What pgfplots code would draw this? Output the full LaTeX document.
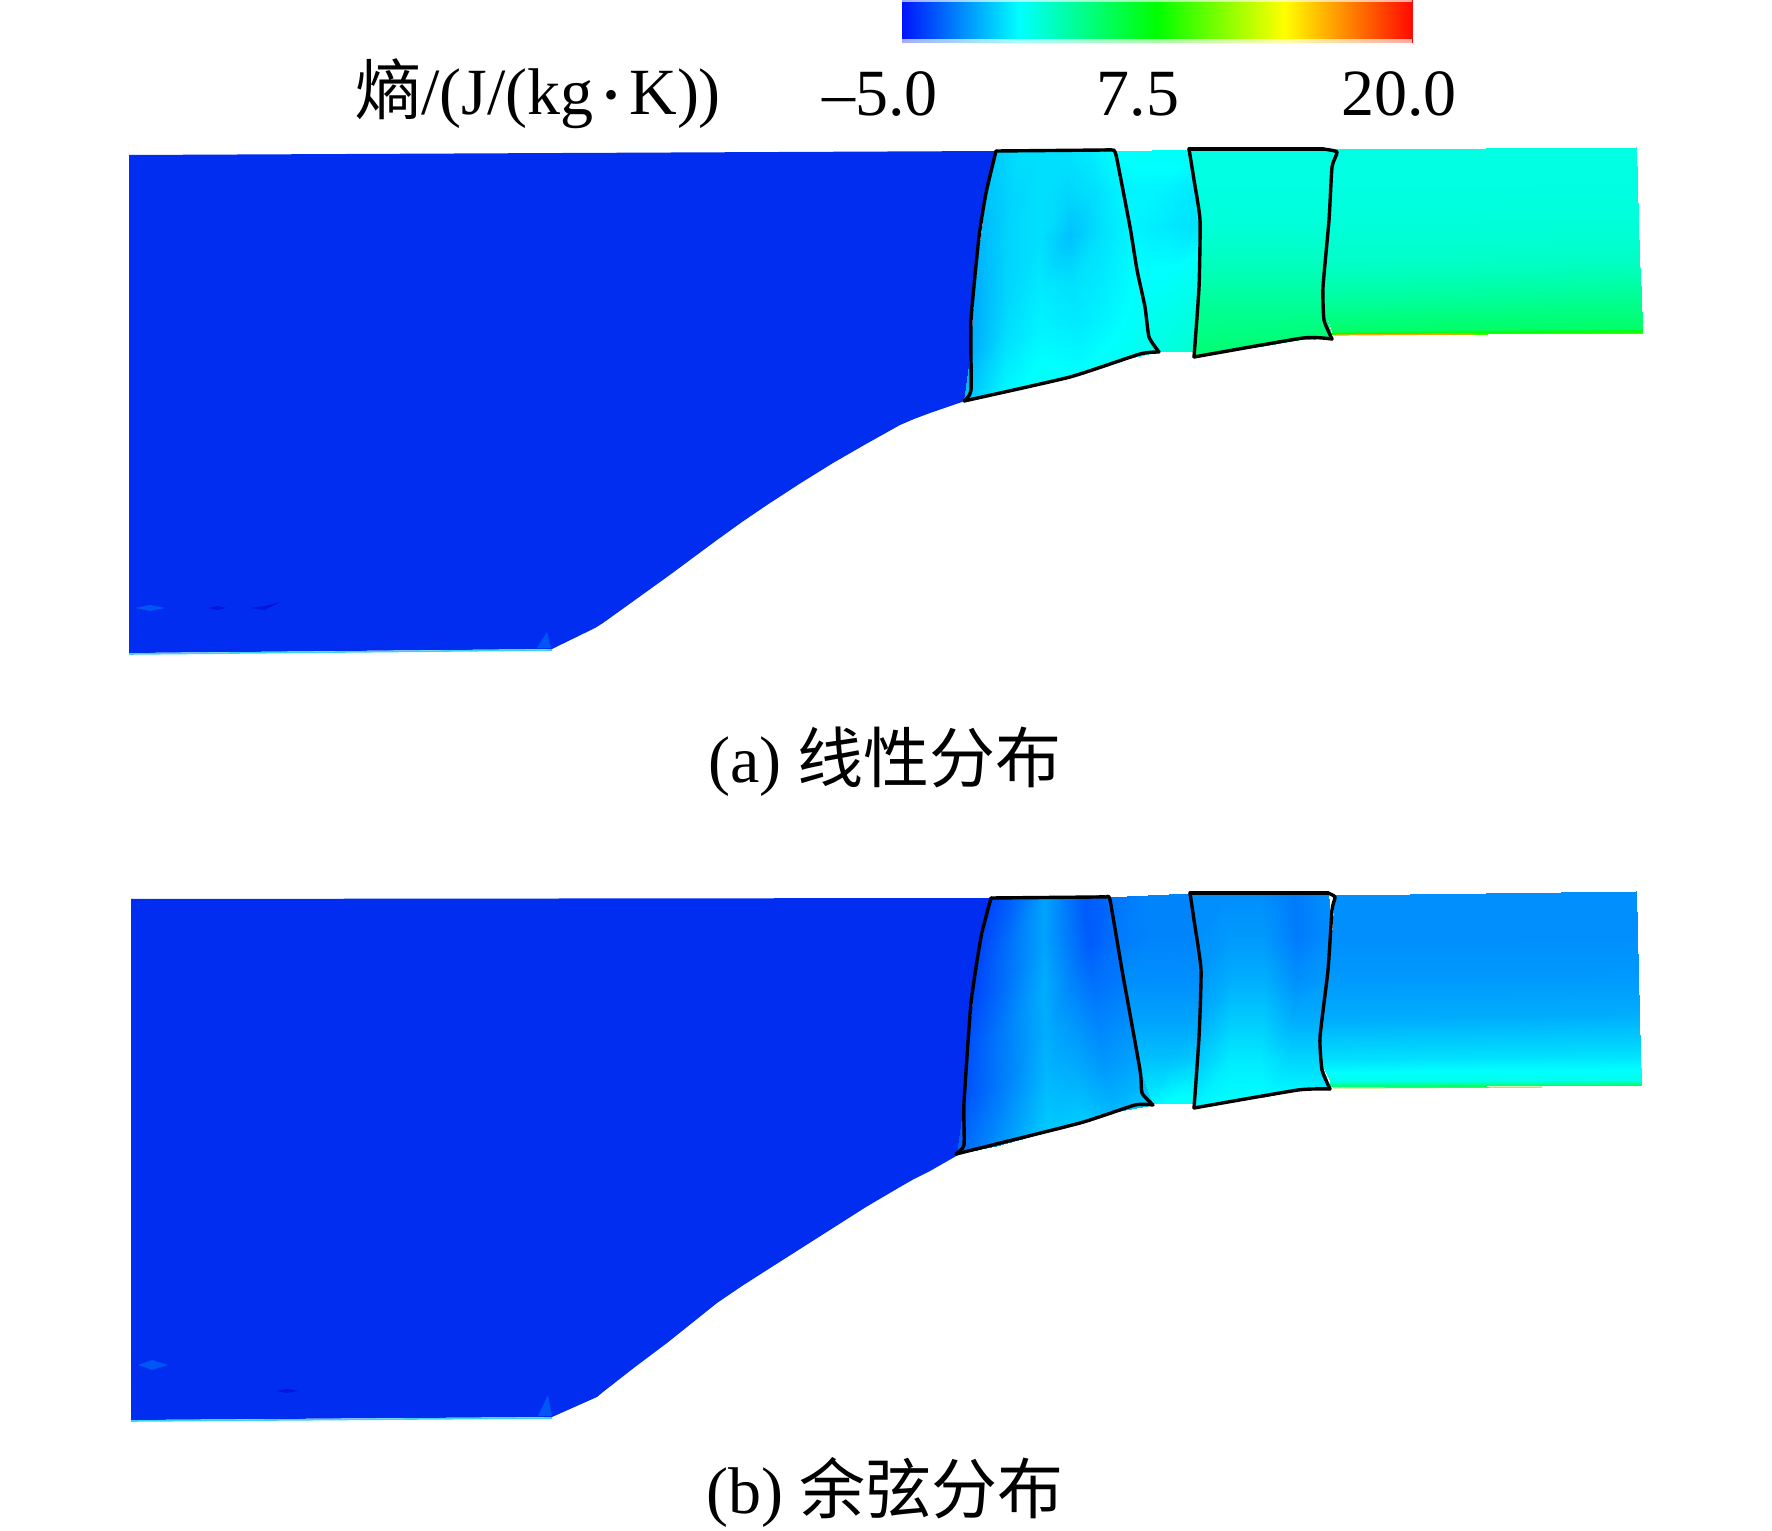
\documentclass[border=0pt]{standalone}
\usepackage{fontspec}
\usepackage{pgfplots}
\pgfplotsset{compat=1.18}
\setmainfont{Liberation Serif}
\newfontfamily\cjk{Noto Sans CJK SC}
\definecolor{inlet}{RGB}{0,45,240}
\definecolor{inletL}{RGB}{0,85,245}
\definecolor{inletD}{RGB}{0,20,225}
\definecolor{rimc}{RGB}{60,210,250}
\pgfplotsset{fld/.style={surf,shader=interp,point meta=explicit,mesh/rows=#1},
 outl/.style={black,line width=1.7bp,line join=round,line cap=round,smooth,tension=.3}}
\tikzset{txt/.style={font=\fontsize{33bp}{36bp}\selectfont,inner sep=0pt}}
\begin{document}
\begin{tikzpicture}
\begin{axis}[name=a,width=886bp,height=765.5bp,scale only axis,hide axis,clip=false,
  xmin=0,xmax=1772,ymin=0,ymax=1531,zmin=-1,zmax=1,y dir=reverse,view={0}{90},
  x filter/.expression={x>905 ? x-3 : x},
  point meta min=-5,point meta max=20,
  colormap={fluent}{rgb255(0cm)=(0,20,250) rgb255(23cm)=(0,255,255) rgb255(50cm)=(0,255,0) rgb255(75cm)=(255,255,0) rgb255(100cm)=(255,10,0)}]
% colour bar
\addplot3[fld=2] table[z expr=0,meta=c]{
x y c
902 0 -5
1415 0 20
902 42 -5
1415 42 20
};
\addplot3[draw=none,fill=white,fill opacity=.65] coordinates {(902,39,0)(1415,39,0)(1415,43,0)(902,43,0)} --cycle;
\addplot3[draw=none,fill=white,fill opacity=.65] coordinates {(902,0,0)(1415,0,0)(1415,2,0)(902,2,0)} --cycle;
% ---------- panel a: inlet
\addplot3[fill=inlet,draw=none] coordinates {(129,155,0)(999,151,0)(989,193,0)(982,237,0)(976,290,0)(974,340,0)(972,390,0)(965,402,0)(933,413,0)(917,419,0)(900,425,0)(883,434.5,0)(866,444,0)(833,463,0)(800,483.5,0)(767,505,0)(742,522,0)(717,540,0)(692,558.5,0)(667,577,0)(635,600,0)(603,623,0)(595,628,0)(552,649,0)(129,653,0)} --cycle;
\addplot3[rimc,line width=.8bp] coordinates {(129,654,0)(552,650,0)};
\addplot3[fill=inletL,draw=none] coordinates {(135,608,0)(150,605,0)(165,608,0)(150,611,0)} --cycle;
\addplot3[fill=inletD,draw=none] coordinates {(208,608,0)(218,606,0)(226,608,0)(218,610,0)} --cycle;
\addplot3[fill=inletD,draw=none] coordinates {(250,608,0)(265,606,0)(280,602,0)(265,610,0)} --cycle;
\addplot3[fill=inletL,draw=none] coordinates {(537,648,0)(547,632,0)(551,648,0)} --cycle;
% blade 1 a
\addplot3[fld=6] table[z expr=0,meta=c]{
x y c
999 151 -0.5
1023 151 0
1046 151 0
1070 151 0
1093 151 0.25
1117 151 0.75
989 200 -0.75
1016 198 -0.25
1044 196 0
1071 195 -0.25
1099 193 0
1126 191 0.5
982 250 -1
1012 245 -0.25
1042 241 0
1073 236 -0.75
1103 232 0
1133 227 0.5
977 300 -1.25
1010 294 -0.25
1042 288 0.25
1075 282 0
1107 276 0.25
1140 270 0.75
974 350 -1.25
1009 341 0
1044 333 0.5
1078 324 0.25
1113 316 0.5
1148 307 1
967 401 -0.75
1006 392 0.5
1044 384 1
1083 373 0.75
1121 361 1
1160 352 1.25
};
% gap a
\addplot3[fld=6] table[z expr=0,meta=c]{
x y c
1117 151 0.75
1155 150 1
1192 150 1
1126 191 0.5
1162 188 0.5
1197 185 0.25
1133 227 0.5
1167 226 0.25
1201 225 0
1140 270 0.75
1172 268 0.75
1203 265 1
1148 307 1
1175 306 1.25
1202 305 1.5
1160 352 1.5
1179 352 1.75
1198 352 2
};
% blade 2 a
\addplot3[fld=6] table[z expr=0,meta=c]{
x y c
1192 149 1.5
1229 149 1.5
1265 149 1.5
1302 149 1.5
1338 149 1.5
1197 185 1.5
1231 185 1.5
1266 185 1.5
1300 185 1.5
1334 185 1.5
1201 225 1.75
1234 225 1.75
1267 225 1.75
1299 225 1.75
1332 225 1.75
1203 265 2.5
1234 265 2.5
1266 265 2.5
1298 265 2.5
1329 265 2.5
1202 305 3.5
1233 305 3.5
1264 305 3.5
1295 305 3.5
1326 305 3.5
1198 356 4.5
1232 351 4.5
1266 346 4.5
1301 340 4.5
1335 338 4.5
};
% outlet a
\addplot3[fld=7] table[z expr=0,meta=c]{
x y c
1338 149 1.5
1639 147 1.5
1334 185 1.5
1640 184 1.5
1332 225 1.75
1641 221 1.75
1329 265 2.25
1642 258 2.25
1326 305 3.5
1644 295 3.5
1335 331 4.75
1645 328 4.75
1335 335 9
1645 333 9
};
\addplot3[orange!70!yellow,line width=.6bp] coordinates {(1338,335,0)(1476,334,0)};
% outlines a
\addplot3[outl] coordinates {(999,151,0)(989,193,0)(982,237,0)(974,320,0)(974,390,0)(967,401,0)};
\addplot3[outl] coordinates {(967,401,0)(1073,377,0)(1143,354,0)(1162,352,0)};
\addplot3[outl] coordinates {(1162,352,0)(1152,337,0)(1148,307,0)(1140,270,0)(1133,227,0)(1119,155,0)(1115,150,0)(1108,150,0)};
\addplot3[outl,sharp plot] coordinates {(1108,150,0)(999,151,0)};
\addplot3[outl] coordinates {(1192,149,0)(1197,180,0)(1203,220,0)(1202,287,0)(1197,357,0)};
\addplot3[outl] coordinates {(1197,357,0)(1306,338,0)(1335,339,0)};
\addplot3[outl] coordinates {(1335,339,0)(1327,320,0)(1326,287,0)(1332,220,0)(1335,167,0)(1340,152,0)(1326,149,0)};
\addplot3[outl,sharp plot] coordinates {(1326,149,0)(1192,149,0)};
% ---------- panel b: inlet
\addplot3[fill=inlet,draw=none] coordinates {(131,899,0)(994,898,0)(984,945,0)(977,990,0)(972,1040,0)(968,1095,0)(967,1145,0)(961,1155,0)(933,1171,0)(917,1179,0)(900,1187,0)(883,1197,0)(866,1207,0)(833,1228,0)(800,1249,0)(767,1270,0)(742,1286,0)(717,1303,0)(692,1323,0)(667,1343,0)(635,1367,0)(603,1392,0)(597,1397,0)(552,1417,0)(131,1420,0)} --cycle;
\addplot3[rimc,line width=.8bp] coordinates {(131,1421,0)(552,1418,0)};
\addplot3[fill=inletL,draw=none] coordinates {(138,1365,0)(152,1360,0)(168,1365,0)(152,1370,0)} --cycle;
\addplot3[fill=inletD,draw=none] coordinates {(276,1391,0)(287,1389,0)(298,1391,0)(287,1393,0)} --cycle;
\addplot3[fill=inletL,draw=none] coordinates {(538,1416,0)(548,1395,0)(552,1416,0)} --cycle;
% blade 1 b
\addplot3[fld=6] table[z expr=0,meta=c]{
x y c
994 898 -3.75
1017 898 -3
1048 898 -1.5
1069 898 -2.5
1086 898 -3.25
1109 897 -3
984 945 -3.75
1011 944 -2.75
1047 943 -1.5
1072 942 -2.5
1092 941 -3.25
1119 940 -2.75
977 990 -3.75
1007 988 -2.75
1047 986 -1.25
1074 984 -2.25
1096 982 -2.75
1126 980 -2.5
972 1040 -3.5
1004 1036 -2.5
1048 1032 -1.25
1077 1028 -1.75
1101 1024 -2.25
1133 1020 -2
968 1095 -3.5
1002 1088 -2.5
1049 1079 -1
1080 1073 -1.25
1106 1067 -1.75
1140 1060 -1.5
960 1154 -3
999 1146 -2
1050 1132 -0.5
1085 1122 -0.5
1117 1112 -1
1156 1105 -0.5
};
% gap b
\addplot3[fld=6] table[z expr=0,meta=c]{
x y c
1109 897 -2.75
1151 895 -2.25
1193 893 -2.25
1119 940 -2.5
1158 938 -2.25
1197 936 -2.25
1126 980 -2
1164 979 -2
1202 978 -2
1133 1020 -1.5
1168 1020 -1.5
1204 1020 -1.5
1140 1060 -0.75
1171 1060 -0.75
1202 1060 -0.5
1156 1104 0.5
1177 1104 1
1198 1104 1
};
% blade 2 b
\addplot3[fld=6] table[z expr=0,meta=c]{
x y c
1193 893 -2
1228 893 -2
1262 893 -2
1297 893 -2.5
1331 893 -2
1197 936 -2
1231 936 -1.75
1266 936 -1.75
1300 936 -2.5
1335 936 -2
1202 978 -1.75
1234 978 -1.25
1267 978 -1.25
1299 978 -2
1331 978 -1.75
1204 1020 -1.25
1234 1020 -0.5
1265 1020 -0.5
1295 1020 -1.25
1325 1020 -1.25
1202 1060 -0.5
1232 1060 0.25
1263 1060 0.25
1293 1060 -0.25
1323 1060 -0.25
1198 1108 0.5
1232 1100 0.75
1267 1097 0.75
1301 1090 0.5
1333 1089 0.25
};
% outlet b
\addplot3[fld=7] table[z expr=0,meta=c]{
x y c
1338 895 -2
1639 891 -2
1335 936 -2
1640 933 -2
1331 978 -1.75
1641 975 -1.75
1325 1020 -1.25
1642 1015 -1.25
1323 1060 0
1643 1055 0
1333 1081 1.25
1644 1080 1.25
1333 1087 5
1644 1085 5
};
\addplot3[yellow!60!green,line width=.5bp] coordinates {(1336,1088,0)(1545,1087,0)};
% outlines b
\addplot3[outl] coordinates {(994,898,0)(984,937,0)(974,1003,0)(967,1103,0)(967,1145,0)(959,1154,0)};
\addplot3[outl] coordinates {(959,1154,0)(1083,1123,0)(1138,1105,0)(1156,1105,0)};
\addplot3[outl] coordinates {(1156,1105,0)(1145,1093,0)(1143,1070,0)(1125,970,0)(1113,900,0)(1109,897,0)(1100,897,0)};
\addplot3[outl,sharp plot] coordinates {(1100,897,0)(994,898,0)};
\addplot3[outl] coordinates {(1193,893,0)(1197,920,0)(1204,970,0)(1202,1037,0)(1197,1108,0)};
\addplot3[outl] coordinates {(1197,1108,0)(1301,1090,0)(1333,1089,0)};
\addplot3[outl] coordinates {(1333,1089,0)(1325,1070,0)(1323,1037,0)(1331,970,0)(1335,910,0)(1338,897,0)(1331,893,0)};
\addplot3[outl,sharp plot] coordinates {(1331,893,0)(1193,893,0)};
% texts
\node[txt] at (axis cs:538,94,0) {{\cjk 熵}/(J/(kg\,{\fontsize{20bp}{20bp}\selectfont\raisebox{3bp}{\textbullet}}\,K))};
\node[txt] at (axis cs:880,94,0) {\textendash 5.0};
\node[txt] at (axis cs:1138,94,0) {7.5};
\node[txt] at (axis cs:1399,94,0) {20.0};
\node[txt] at (axis cs:885,762,0) {(a) {\cjk 线性分布}};
\node[txt] at (axis cs:885,1492,0) {(b) {\cjk 余弦分布}};
\end{axis}
\path[use as bounding box] (a.south west) rectangle (a.north east);
\end{tikzpicture}
\end{document}
